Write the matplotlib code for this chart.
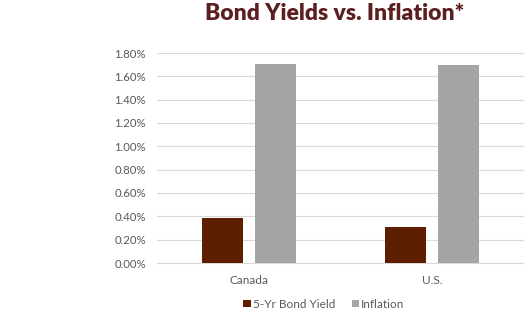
import numpy as np
import matplotlib.pyplot as plt
from matplotlib.ticker import PercentFormatter

# data
countries = ["Canada", "U.S."]
bond_yield = [0.39, 0.31]
inflation = [1.71, 1.70]

plt.rcParams['font.family'] = ['Lato', 'DejaVu Sans']

fig = plt.figure(figsize=(5.24, 3.11), dpi=100)
ax = fig.add_axes([157/524, 1 - 263/311, (524 - 157)/524, 210/311])

x = np.arange(len(countries))
w = 0.223
off = 0.144
ax.bar(x - off, bond_yield, w, color="#5E1F00", label="5-Yr Bond Yield", zorder=3)
ax.bar(x + off, inflation, w, color="#A5A5A5", label="Inflation", zorder=3)

ax.set_xlim(-0.5, 1.5)
ax.set_ylim(0, 1.8)
ax.set_yticks(np.arange(0, 1.81, 0.2))
ax.yaxis.set_major_formatter(PercentFormatter(decimals=2))
ax.set_xticks(x)
ax.set_xticklabels(countries)
ax.grid(axis="y", color="#D9D9D9", linewidth=0.8, zorder=0)
for s in ["top", "right", "left"]:
    ax.spines[s].set_visible(False)
ax.spines["bottom"].set_color("#D9D9D9")
ax.tick_params(axis="y", length=0, labelsize=8.2, colors="#595959", pad=8)
ax.tick_params(axis="x", length=0, labelsize=8.5, colors="#595959", pad=9)

fig.text(335/524, 1 - 14/311, "Bond Yields vs. Inflation*", ha="center", va="center",
         fontsize=16.5, fontweight="heavy", color="#5C1F20")

fig.legend(loc="center", bbox_to_anchor=(324/524, 1 - 304/311), ncol=2, frameon=False,
           fontsize=8.5, labelcolor="#595959", handlelength=0.6, handleheight=0.6,
           handletextpad=0.2, columnspacing=1.4)

fig.savefig("out.png", dpi=100)
